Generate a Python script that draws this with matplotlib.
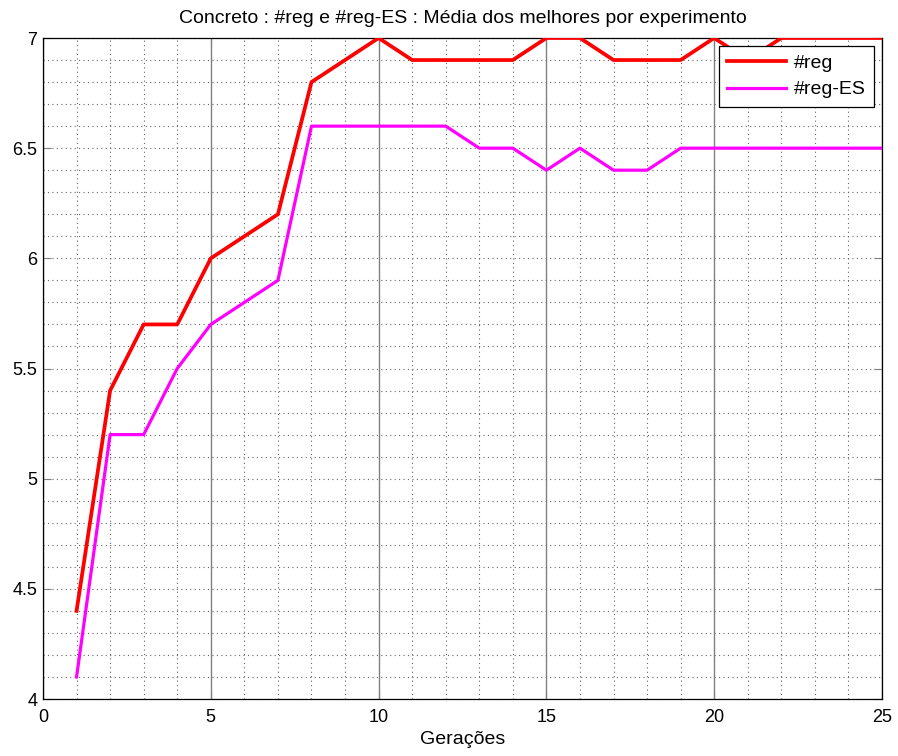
import numpy as np
import matplotlib.pyplot as plt
from matplotlib.ticker import MultipleLocator, FormatStrFormatter

plt.rcParams['font.family'] = ['Liberation Sans', 'DejaVu Sans']

geracoes = np.arange(1, 26)
reg = [4.4, 5.4, 5.7, 5.7, 6.0, 6.1, 6.2, 6.8, 6.9, 7.0,
       6.9, 6.9, 6.9, 6.9, 7.0, 7.0, 6.9, 6.9, 6.9, 7.0,
       6.9, 7.0, 7.0, 7.0, 7.0]
reg_es = [4.1, 5.2, 5.2, 5.5, 5.7, 5.8, 5.9, 6.6, 6.6, 6.6,
          6.6, 6.6, 6.5, 6.5, 6.4, 6.5, 6.4, 6.4, 6.5, 6.5,
          6.5, 6.5, 6.5, 6.5, 6.5]

fig = plt.figure(figsize=(8.98, 7.56), dpi=100)
ax = fig.add_axes([43/898, 57/756, 839/898, 661/756])

ax.plot(geracoes, reg, color='#ff0000', lw=2.7, label='#reg', zorder=3)
ax.plot(geracoes, reg_es, color='#ff00ff', lw=2.3, label='#reg-ES', zorder=3)

ax.set_xlim(0, 25)
ax.set_ylim(4, 7)
ax.xaxis.set_major_locator(MultipleLocator(5))
ax.xaxis.set_minor_locator(MultipleLocator(1))
ax.yaxis.set_major_locator(MultipleLocator(0.5))
ax.yaxis.set_minor_locator(MultipleLocator(0.1))
ax.yaxis.set_major_formatter(FormatStrFormatter('%g'))

# solid lines at the major x ticks, dotted everywhere else
ax.xaxis.grid(True, which='major', ls='-', color='#808080', lw=1.0)
ax.xaxis.grid(True, which='minor', ls=(0, (1, 3)), color='#666666', lw=0.8)
ax.yaxis.grid(True, which='both', ls=(0, (1, 3)), color='#666666', lw=0.8)
ax.set_axisbelow(True)

ax.tick_params(which='major', direction='in', length=6, width=0.8,
               color='#808080', labelsize=13, top=True, right=True)
ax.tick_params(axis='x', pad=7)
ax.tick_params(axis='y', pad=4)
ax.tick_params(which='minor', length=0)
for s in ax.spines.values():
    s.set_color('black')
    s.set_linewidth(0.9)

ax.set_title('Concreto : #reg e #reg-ES : Média dos melhores por experimento',
             fontsize=14, pad=11)
ax.set_xlabel('Gerações', fontsize=14, labelpad=4)

leg = ax.legend(loc='upper right', fontsize=14, frameon=True, fancybox=False,
                edgecolor='black', framealpha=1, handlelength=3.0,
                borderaxespad=0.4, borderpad=0.45, labelspacing=0.45,
                handletextpad=0.4)
leg.get_frame().set_linewidth(0.9)

fig.savefig('out.png', dpi=100)
